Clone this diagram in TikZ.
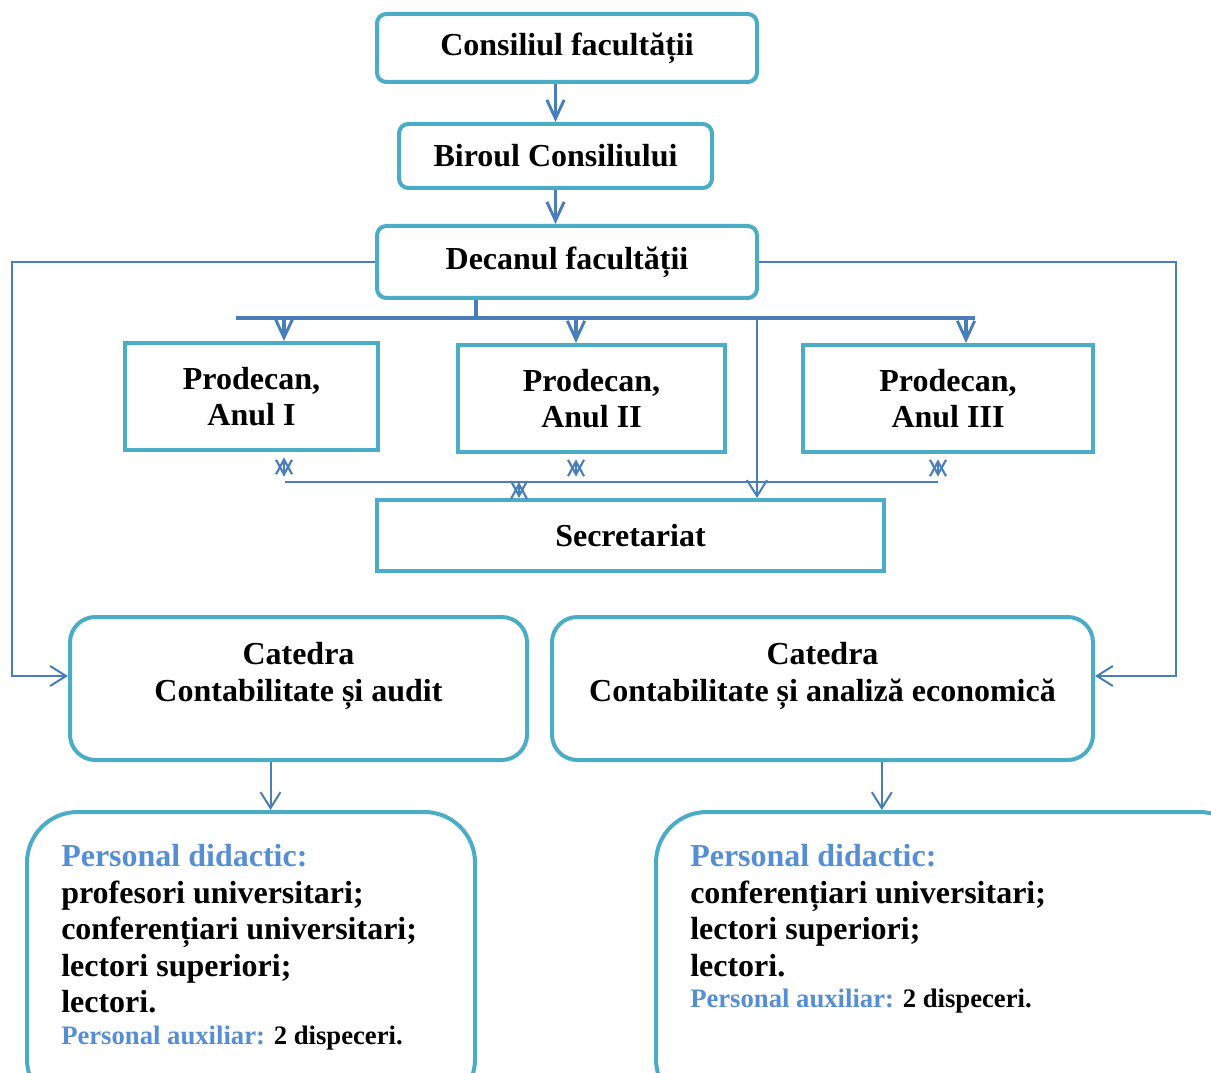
\documentclass[tikz,border=0pt]{standalone}
\usepackage{fontspec}
\setmainfont{Liberation Serif}
\usepackage{tikz}
\usetikzlibrary{arrows.meta, positioning, calc}
\definecolor{boxcyan}{HTML}{4BACC6}
\definecolor{linkblue}{HTML}{4A7EBB}
\definecolor{labelblue}{HTML}{558ED5}
\tikzstyle{arrow} = [linkblue, line width=2.5pt, -{Straight Barb[length=14pt, width=13pt, line width=2.2pt]}]
\tikzstyle{thinarrow} = [linkblue, line width=1.5pt, -{Straight Barb[length=12pt, width=15pt, line width=1.5pt]}]
\tikzstyle{dblarrow} = [linkblue, line width=1.6pt, {Straight Barb[length=11pt, width=12pt, line width=1.6pt]}-{Straight Barb[length=11pt, width=12pt, line width=1.6pt]}]
\tikzstyle{bus} = [linkblue, line width=2.5pt]

\begin{document}
\begin{tikzpicture}
	[x=0.75pt, y=-0.75pt,
	every node/.style={font=\fontsize{24}{27.4}\selectfont\bfseries},
	topbox/.style={draw=boxcyan, line width=3pt, rounded corners=7pt, inner sep=0pt},
	probox/.style={draw=boxcyan, line width=3pt, inner sep=0pt, align=center},
	catbox/.style={draw=boxcyan, line width=3pt, rounded corners=19pt, inner sep=0pt},
	persbox/.style={draw=boxcyan, line width=3pt, rounded corners=38pt, inner sep=0pt},
	perstext/.style={align=left, anchor=north west, inner sep=0pt},
	smalltext/.style={font=\fontsize{20}{22}\selectfont\bfseries}]
	\clip (0,0) rectangle (1211,1073);

	% conducerea
	\node[topbox, minimum width=285pt, minimum height=51pt] (consiliu) at (567,48) {\raisebox{-1.5pt}{Consiliul facultății}};
	\node[topbox, minimum width=234.75pt, minimum height=48pt] (birou) at (555.5,156) {\raisebox{-1.5pt}{Biroul Consiliului}};
	\node[topbox, minimum width=285pt, minimum height=54pt] (decan) at (567,262) {\raisebox{-1.5pt}{Decanul facultății}};
	\draw[arrow] (consiliu.south -| birou) -- (birou);
	\draw[arrow] (birou) -- (decan.north -| birou);

	% prodecani
	\node[probox, minimum width=189.75pt, minimum height=80.25pt] (proI) at (251.5,396.5) {Prodecan,\\Anul I};
	\node[probox, minimum width=200.25pt, minimum height=80.25pt] (proII) at (591.5,398.5) {Prodecan,\\Anul II};
	\node[probox, minimum width=217.5pt, minimum height=80.25pt] (proIII) at (948,398.5) {Prodecan,\\Anul III};
	\node[probox, minimum width=380.25pt, minimum height=53.25pt] (secret) at (630.5,535.5) {Secretariat};

	\coordinate (busL) at (236,318);
	\coordinate (busR) at (975,318);
	\coordinate (busM) at (476,318);
	\coordinate (busI) at (284,318);
	\coordinate (busII) at (576,318);
	\coordinate (busIII) at (966,318);
	\coordinate (busS) at (757,318);
	\draw[bus] (decan.south -| busM) -- (busM);
	\draw[bus] (busL) -- (busR);
	\draw[arrow] (busI) -- (busI |- proI.north);
	\draw[arrow] (busII) -- (busII |- proII.north);
	\draw[arrow] (busIII) -- (busIII |- proIII.north);
	\draw[thinarrow] (busS) -- (busS |- secret.north);

	\coordinate (secL) at (285,482);
	\coordinate (secR) at (938,482);
	\coordinate (secX) at (519,482);
	\draw[linkblue, line width=1.5pt] (secL) -- (secR);
	\draw[dblarrow, shorten <=4pt, shorten >=4pt] (proI.south -| busI) -- (busI |- secL);
	\draw[dblarrow, shorten <=4pt, shorten >=4pt] (proII.south -| busII) -- (busII |- secL);
	\draw[dblarrow, shorten <=4pt, shorten >=4pt] (proIII.south -| secR) -- (secR);
	\draw[dblarrow] (secX) -- (secX |- secret.north);

	% catedre
	\node[catbox, minimum width=342.75pt, minimum height=107.25pt] (catA) at (298.5,688.5) {};
	\node[catbox, minimum width=405.75pt, minimum height=107.25pt] (catB) at (822.5,688.5) {};
	\node[align=center] (catAtxt) at (298.5,676) {Catedra\\Contabilitate și audit};
	\node[align=center] (catBtxt) at (822.5,676) {Catedra\\Contabilitate și analiză economică};

	\coordinate (sideL) at (12,0);
	\coordinate (sideR) at (1176,0);
	\draw[thinarrow] (decan.west) -- (decan.west -| sideL) |- (catA.west |- catAtxt);
	\draw[thinarrow] (decan.east) -- (decan.east -| sideR) |- (catB.east |- catBtxt);

	% personal
	\node[persbox, minimum width=336pt, minimum height=223.5pt] (persA) at (251,961) {};
	\node[persbox, minimum width=445.5pt, minimum height=223.5pt] (persB) at (953,961) {};
	\draw[thinarrow] ([xshift=-21pt]catA.south) -- ([xshift=-21pt]catA.south |- persA.north);
	\draw[thinarrow] ([xshift=44.5pt]catB.south) -- ([xshift=44.5pt]catB.south |- persB.north);

	\node[perstext] (persAtxt) at (61,844) {{\color{labelblue}Personal didactic:}\\
		profesori universitari;\\
		conferențiari universitari;\\
		lectori superiori;\\
		lectori.};
	\node[perstext, smalltext, anchor=base west] (persAaux) at (61,1044) {{\color{labelblue}Personal auxiliar:} 2 dispeceri.};
	\node[perstext] (persBtxt) at (690,844) {{\color{labelblue}Personal didactic:}\\
		conferențiari universitari;\\
		lectori superiori;\\
		lectori.};
	\node[perstext, smalltext, anchor=base west] (persBaux) at (690,1007) {{\color{labelblue}Personal auxiliar:} 2 dispeceri.};
\end{tikzpicture}
\end{document}
